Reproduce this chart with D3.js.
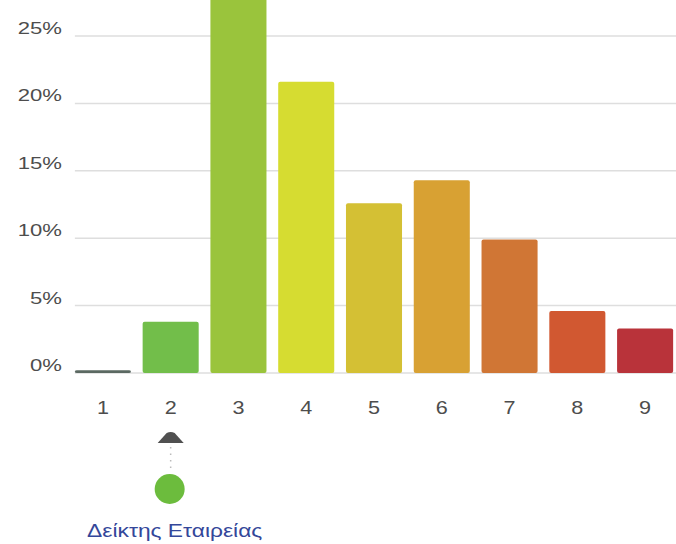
<!DOCTYPE html>
<html>
<head>
<meta charset="utf-8">
<script src="https://cdn.jsdelivr.net/npm/d3@7"></script>
<style>
  body { margin: 0; background: #fff; }
  svg { display: block; font-family: "Liberation Sans", Arial, sans-serif; }
</style>
</head>
<body>
<div id="chart"></div>
<script>
// Score categories and share of companies in each
const categories = [1, 2, 3, 4, 5, 6, 7, 8, 9];
const values = [0.002, 0.038, 0.30, 0.216, 0.126, 0.143, 0.099, 0.046, 0.033];
const barColors = ["#5b6962", "#72be4a", "#9ac43c", "#d6dc31", "#d4c034", "#d8a133", "#d07635", "#d15831", "#b9333a"];
const yTicks = [0, 0.05, 0.10, 0.15, 0.20, 0.25];
const markerCategory = 2;
const markerLabel = "Δείκτης Εταιρείας";

const width = 676, height = 544;
const margins = {left: 69, right: -3, zero: 373, top: 36};

const svg = d3.select("#chart")
  .append("svg")
  .attr("width", width)
  .attr("height", height);

const x = d3.scaleBand()
  .domain(categories)
  .range([margins.left, width - margins.right])
  .paddingInner(0.173)
  .paddingOuter(0.0865);

// 25% sits at the top gridline, taller bars run off the top
const y = d3.scaleLinear()
  .domain([0, 0.25])
  .range([margins.zero, margins.top]);

// Gridlines
svg.append("g")
  .selectAll("line")
  .data(yTicks)
  .join("line")
    .attr("x1", x(categories[0]))
    .attr("x2", width)
    .attr("y1", d => y(d))
    .attr("y2", d => y(d))
    .attr("stroke", "#dedede")
    .attr("stroke-width", 1.5);

// Y labels, slightly stretched like the original
svg.append("g")
  .selectAll("text")
  .data(yTicks)
  .join("text")
    .attr("transform", d => `translate(62,${y(d) - 2}) scale(1.3,1)`)
    .attr("text-anchor", "end")
    .style("font-size", "17px")
    .style("fill", "#4d4d4d")
    .text(d => d3.format(".0%")(d));

// Bars
svg.append("g")
  .selectAll("rect")
  .data(categories)
  .join("rect")
    .attr("x", (d, i) => x(d))
    .attr("y", (d, i) => y(values[i]))
    .attr("width", x.bandwidth())
    .attr("height", (d, i) => y(0) - y(values[i]))
    .attr("rx", 2)
    .attr("fill", (d, i) => barColors[i]);

// X labels
svg.append("g")
  .selectAll("text")
  .data(categories)
  .join("text")
    .attr("transform", d => `translate(${x(d) + x.bandwidth() / 2},414) scale(1.2,1)`)
    .attr("text-anchor", "middle")
    .style("font-size", "18px")
    .style("fill", "#4d4d4d")
    .text(d => d);

// Company marker under its category
const mx = x(markerCategory) + x.bandwidth() / 2;
const marker = svg.append("g");

marker.append("path")
  .attr("d", `M${mx - 13},443 L${mx - 4},433 Q${mx},431 ${mx + 4},433 L${mx + 13},443 Z`)
  .attr("fill", "#505050");

marker.append("line")
  .attr("x1", mx).attr("x2", mx)
  .attr("y1", 447).attr("y2", 472)
  .attr("stroke", "#bbb")
  .attr("stroke-width", 1.5)
  .attr("stroke-dasharray", "1.5,5");

marker.append("circle")
  .attr("cx", mx - 1)
  .attr("cy", 489)
  .attr("r", 15)
  .attr("fill", "#6cbc3d");

marker.append("text")
  .attr("transform", `translate(${mx + 4},537) scale(1.2,1)`)
  .attr("text-anchor", "middle")
  .style("font-size", "19px")
  .style("fill", "#34479a")
  .text(markerLabel);
</script>
</body>
</html>
